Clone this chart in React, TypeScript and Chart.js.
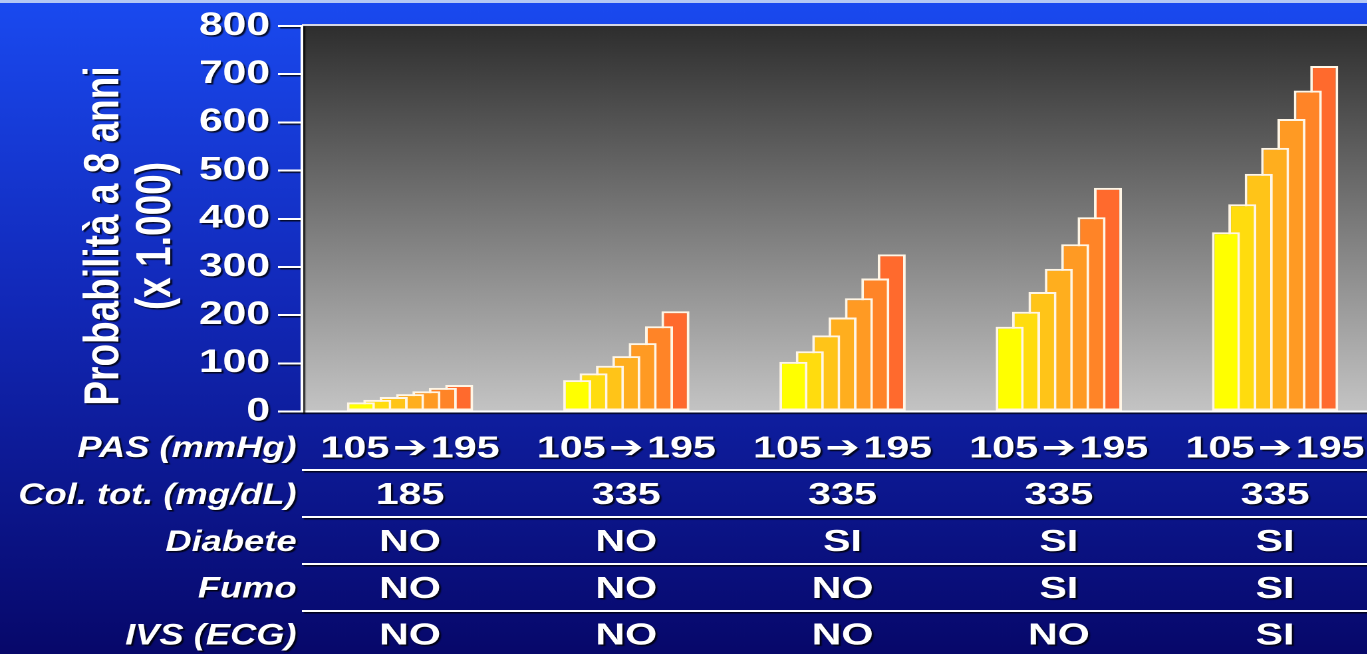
import React, { useEffect, useRef } from "react";
import { Chart, registerables } from "chart.js";

Chart.register(...registerables);

// ---------- data ----------
const pasRange = ["105\u200a\u2794\u200a195", "105\u200a\u2794\u200a195", "105\u200a\u2794\u200a195", "105\u200a\u2794\u200a195", "105\u200a\u2794\u200a195"];
const colTot = ["185", "335", "335", "335", "335"];
const diabete = ["NO", "NO", "SI", "SI", "SI"];
const fumo = ["NO", "NO", "NO", "SI", "SI"];
const ivs = ["NO", "NO", "NO", "NO", "SI"];
const rowTitles = ["PAS (mmHg)", "Col. tot. (mg/dL)", "Diabete", "Fumo", "IVS (ECG)"];

// probability at 8 years (x 1000), one array per systolic pressure level, across the 5 profiles
const pas105 = [19, 65, 103, 176, 372];
const pas120 = [24, 79, 125, 207, 430];
const pas135 = [30, 95, 158, 248, 493];
const pas150 = [36, 115, 195, 296, 547];
const pas165 = [42, 142, 235, 347, 607];
const pas180 = [49, 177, 276, 403, 666];
const pas195 = [55, 208, 326, 464, 717];
const levelNames = ["105", "120", "135", "150", "165", "180", "195"];
const barColors = ["#ffff00", "#ffdc0e", "#ffc418", "#ffae1e", "#ff9a23", "#ff8427", "#ff6a2d"];

const yTitle = ["Probabilità a 8 anni", "(x 1.000)"];

// ---------- layout constants ----------
const SX = 1.33; // horizontal stretch of the slide
const W = 1040;
const H = 654;
const LINE_H = 46.8;
const PAD = 14;
const FAMILY = '"Liberation Sans", "DejaVu Sans", Arial, sans-serif';

const setShadow = (ctx: CanvasRenderingContext2D) => {
  ctx.shadowColor = "rgba(0,0,0,0.8)";
  ctx.shadowOffsetX = 3;
  ctx.shadowOffsetY = 3;
  ctx.shadowBlur = 2;
};
const clearShadow = (ctx: CanvasRenderingContext2D) => {
  ctx.shadowColor = "rgba(0,0,0,0)";
  ctx.shadowOffsetX = 0;
  ctx.shadowOffsetY = 0;
  ctx.shadowBlur = 0;
};

const deco = {
  id: "deco",
  beforeDraw(chart: any) {
    const { ctx, chartArea: ca, width, height } = chart;
    ctx.save();
    const g = ctx.createLinearGradient(0, 0, 0, height);
    g.addColorStop(0, "#1a4af0");
    g.addColorStop(0.45, "#1229b9");
    g.addColorStop(1, "#07086a");
    ctx.fillStyle = g;
    ctx.fillRect(0, 0, width, height);
    ctx.fillStyle = "#b4c8f4";
    ctx.fillRect(0, 0, width, 3);
    const pg = ctx.createLinearGradient(0, ca.top, 0, ca.bottom);
    pg.addColorStop(0, "#2e2e2e");
    pg.addColorStop(1, "#c4c4c4");
    ctx.fillStyle = pg;
    ctx.fillRect(ca.left, ca.top, width - ca.left, ca.bottom - ca.top);
    ctx.fillStyle = "#d4d6e4";
    ctx.fillRect(ca.left, ca.top - 2, width - ca.left, 2);
    ctx.restore();
    setShadow(ctx);
  },
  beforeDatasetsDraw(chart: any) {
    clearShadow(chart.ctx);
  },
  afterDraw(chart: any) {
    const { ctx, chartArea: ca, width } = chart;
    const xs = chart.scales.x;
    const base = xs.top + PAD + LINE_H / 2;
    ctx.save();
    setShadow(ctx);
    ctx.strokeStyle = "#ffffff";
    ctx.lineWidth = 2;
    for (let i = 0; i < rowTitles.length - 1; i++) {
      const y = Math.round(base + LINE_H * (i + 0.5) - 2);
      ctx.beginPath();
      ctx.moveTo(ca.left, y);
      ctx.lineTo(width, y);
      ctx.stroke();
    }
    ctx.fillStyle = "#ffffff";
    ctx.font = `italic bold 30px ${FAMILY}`;
    ctx.textAlign = "right";
    ctx.textBaseline = "middle";
    const squeeze = 0.91;
    rowTitles.forEach((t, i) => {
      ctx.save();
      ctx.translate(ca.left - 4, base + i * LINE_H);
      ctx.scale(squeeze, 1);
      ctx.fillText(t, 0, 0);
      ctx.restore();
    });

    ctx.font = `bold 37px ${FAMILY}`;
    ctx.textAlign = "center";
    ctx.translate(79, 236);
    ctx.rotate(-Math.PI / 2);
    ctx.fillText(yTitle[0], 0, 0);
    ctx.fillText(yTitle[1], 0, 39);
    ctx.restore();
  },
};

export default function App() {
  const ref = useRef<HTMLCanvasElement>(null);

  useEffect(() => {
    const levels = [pas105, pas120, pas135, pas150, pas165, pas180, pas195];
    const labels = pasRange.map((p, i) => [p, colTot[i], diabete[i], fumo[i], ivs[i]]);
    const chart = new Chart(ref.current as HTMLCanvasElement, {
      type: "bar",
      data: {
        labels,
        datasets: levels.map((d, i) => ({
          label: levelNames[i],
          data: d,
          backgroundColor: barColors[i],
          borderColor: "#fff6e6",
          borderWidth: 2,
          borderSkipped: false,
          categoryPercentage: 0.53,
          barPercentage: 1.71,
        })),
      },
      options: {
        responsive: false,
        devicePixelRatio: 2,
        animation: false,
        layout: { padding: { top: 26, left: 0, right: 0, bottom: 0 } },
        plugins: {
          legend: { display: false },
          tooltip: { enabled: false },
        },
        scales: {
          x: {
            offset: true,
            grid: { display: false, drawTicks: false },
            border: { color: "#ffffff", width: 2 },
            ticks: {
              color: "#ffffff",
              font: { family: FAMILY, size: 31, weight: "bold", lineHeight: `${LINE_H}px` },
              padding: PAD,
              autoSkip: false,
              maxRotation: 0,
              minRotation: 0,
            },
            afterFit(s: any) {
              s.height = 242.5;
            },
          },
          y: {
            min: 0,
            max: 800,
            ticks: {
              stepSize: 100,
              color: "#ffffff",
              font: { family: FAMILY, size: 32, weight: "bold" },
              padding: 6,
            },
            grid: { drawOnChartArea: false, drawTicks: true, tickLength: 18, color: "#ffffff", lineWidth: 2 },
            border: { color: "#ffffff", width: 2 },
            afterFit(s: any) {
              s.width = 227;
            },
          },
        },
      },
      plugins: [deco],
    } as any);
    return () => chart.destroy();
  }, []);

  return (
    <div
      style={{
        position: "fixed",
        left: 0,
        top: 0,
        width: 1367,
        height: 654,
        overflow: "hidden",
        background: "#0a0a70",
      }}
    >
      <div style={{ width: W, height: H, transform: `scaleX(${SX})`, transformOrigin: "0 0" }}>
        <canvas ref={ref} width={W} height={H} style={{ width: W, height: H, display: "block" }} />
      </div>
    </div>
  );
}
